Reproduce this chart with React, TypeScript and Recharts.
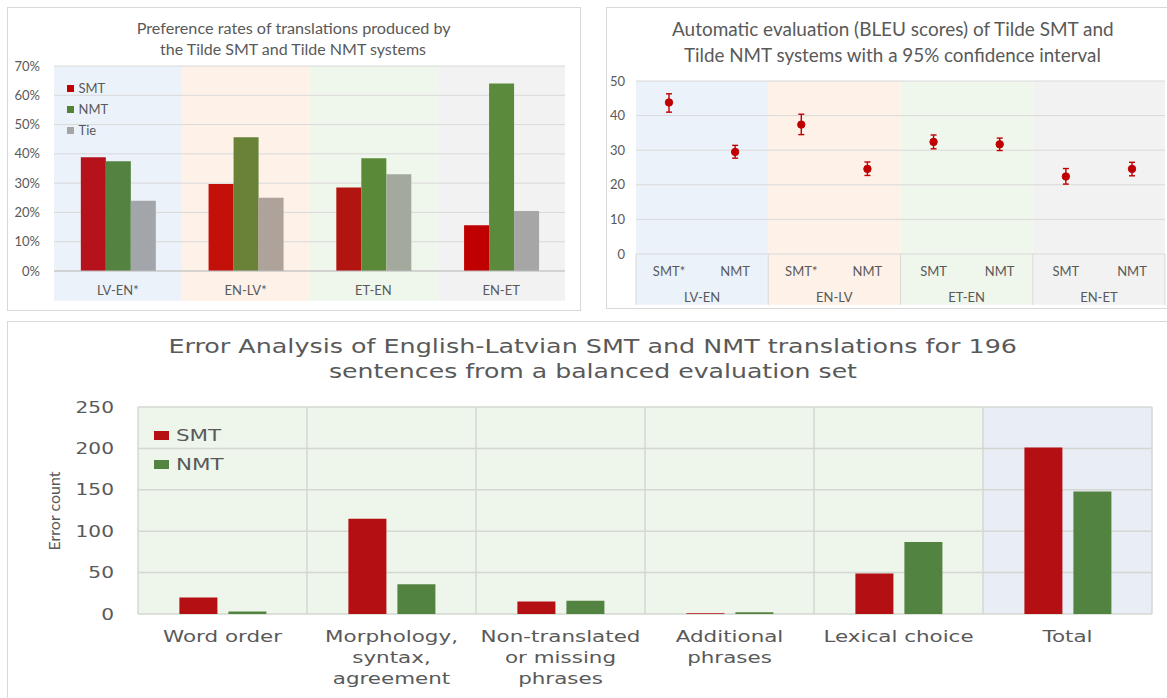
import React from 'react';
import {
  BarChart, Bar, XAxis, YAxis, CartesianGrid, ReferenceArea, ReferenceLine,
  Cell, Legend, ComposedChart, Line, ErrorBar,
} from 'recharts';

const LATO = "Lato, 'Open Sans', Arial, sans-serif";
const DEJAVU = "'DejaVu Sans', Verdana, sans-serif";
const TEXT = '#595959';

// ---------- Chart 1: preference rates (%) ----------
const prefCategories = ['LV-EN*', 'EN-LV*', 'ET-EN', 'EN-ET'];
const prefSeries = ['SMT', 'NMT', 'Tie'];
const prefSMT = [38.8, 29.7, 28.5, 15.6];
const prefNMT = [37.5, 45.7, 38.5, 64.0];
const prefTie = [24.0, 25.0, 33.0, 20.5];
const prefTicks = [0, 10, 20, 30, 40, 50, 60, 70];

// ---------- Chart 2: BLEU with 95% CI ----------
const bleuPairs = ['LV-EN', 'EN-LV', 'ET-EN', 'EN-ET'];
const bleuSystems = ['SMT*', 'NMT', 'SMT*', 'NMT', 'SMT', 'NMT', 'SMT', 'NMT'];
const bleuScore = [43.8, 29.5, 37.4, 24.6, 32.4, 31.7, 22.4, 24.6];
const bleuLower = [41.0, 27.7, 34.5, 22.7, 30.4, 29.9, 20.2, 22.6];
const bleuUpper = [46.3, 31.4, 40.4, 26.6, 34.4, 33.5, 24.7, 26.5];
const bleuTicks = [0, 10, 20, 30, 40, 50];
const bleuGroupTicks = [0.5, 1.5, 2.5, 3.5];

// ---------- Chart 3: error analysis ----------
const errCategories = [
  'Word order',
  'Morphology,\nsyntax,\nagreement',
  'Non-translated\nor missing\nphrases',
  'Additional\nphrases',
  'Lexical choice',
  'Total',
];
const errSeries = ['SMT', 'NMT'];
const errSMT = [20, 115, 15, 1, 49, 201];
const errNMT = [3, 36, 16, 2, 87, 148];
const errTicks = [0, 50, 100, 150, 200, 250];

// ---------- styles ----------
const bandFill = ['#EBF2FA', '#FDF1E8', '#EFF6EB', '#F2F2F2'];
const prefSMTFill = ['#B5121B', '#C3110A', '#B2150F', '#C00000'];
const prefNMTFill = ['#548241', '#698237', '#5A8A38', '#5B8A3C'];
const prefTieFill = ['#A2A6AB', '#ADA39A', '#A3A99C', '#A6A6A6'];
const errBandFill = ['#EEF5EA', '#EEF5EA', '#EEF5EA', '#EEF5EA', '#EEF5EA', '#E9EDF6'];

// ---------- ticks ----------
function PrefXTick(props: any) {
  const { x, y, payload } = props;
  return (
    <text x={x} y={y} dy={24} textAnchor="middle" fill={TEXT} fontSize={13} fontFamily={LATO}>
      {payload.value}
    </text>
  );
}
function PctTick(props: any) {
  const { x, y, payload } = props;
  return (
    <text x={x} y={y} dy={4.6} textAnchor="end" fill={TEXT} fontSize={13} fontFamily={LATO}>
      {payload.value}%
    </text>
  );
}
function NumTick(props: any) {
  const { x, y, payload } = props;
  return (
    <text x={x} y={y} dy={4.6} textAnchor="end" fill={TEXT} fontSize={13} fontFamily={LATO}>
      {payload.value}
    </text>
  );
}
function SysTick(props: any) {
  const { x, y, payload } = props;
  return (
    <text x={x} y={y} dy={22} textAnchor="middle" fill={TEXT} fontSize={13} fontFamily={LATO}>
      {payload.value}
    </text>
  );
}
function PairTick(props: any) {
  const { x, y, payload } = props;
  return (
    <text x={x} y={y} dy={22.7} textAnchor="middle" fill={TEXT} fontSize={13} fontFamily={LATO}>
      {bleuPairs[Math.floor(payload.value)]}
    </text>
  );
}
function ErrXTick(props: any) {
  const { x, y, payload } = props;
  const lines = String(payload.value).split('\n');
  return (
    <g transform={`translate(${x},${y}) scale(1.3,1)`}>
      <text textAnchor="middle" fill={TEXT} fontSize={16.5} fontFamily={DEJAVU}>
        {lines.map((l, i) => (
          <tspan key={i} x={0} y={28.4 + i * 21}>{l}</tspan>
        ))}
      </text>
    </g>
  );
}
function ErrYTick(props: any) {
  const { x, y, payload } = props;
  return (
    <g transform={`translate(${x},${y}) scale(1.3,1)`}>
      <text textAnchor="end" y={5.6} fill={TEXT} fontSize={15.5} fontFamily={DEJAVU}>
        {payload.value}
      </text>
    </g>
  );
}

// ---------- legends ----------
function ordered(payload: any[], order: string[]) {
  return [...(payload || [])].sort((a, b) => order.indexOf(a.value) - order.indexOf(b.value));
}
function PrefLegend(props: any) {
  const payload = ordered(props.payload, prefSeries);
  return (
    <div>
      {payload.map((p: any) => (
        <div key={p.value} style={{ display: 'flex', alignItems: 'center', height: 21 }}>
          <span style={{ display: 'inline-block', width: 7, height: 7, background: p.color, marginRight: 4.5 }} />
          <span style={{ fontFamily: LATO, fontSize: 13, color: TEXT, lineHeight: '21px' }}>{p.value}</span>
        </div>
      ))}
    </div>
  );
}
function ErrLegend(props: any) {
  const payload = ordered(props.payload, errSeries);
  return (
    <div>
      {payload.map((p: any) => (
        <div key={p.value} style={{ display: 'flex', alignItems: 'center', height: 29 }}>
          <span style={{ display: 'inline-block', width: 15, height: 9, background: p.color, marginRight: 6.5 }} />
          <span
            style={{
              display: 'inline-block', fontFamily: DEJAVU, fontSize: 16.5, color: TEXT,
              lineHeight: '29px', transform: 'scaleX(1.3)', transformOrigin: 'left center',
            }}
          >
            {p.value}
          </span>
        </div>
      ))}
    </div>
  );
}

// ---------- charts ----------
function PreferenceChart() {
  const data = prefCategories.map((cat, i) => ({ cat, pos: i + 0.5, SMT: prefSMT[i], NMT: prefNMT[i], Tie: prefTie[i] }));
  return (
    <div style={{ position: 'absolute', left: 0, top: 0 }}>
      <BarChart
        width={600}
        height={315}
        data={data}
        margin={{ top: 66, right: 35, bottom: 14, left: 14 }}
        barCategoryGap="21%"
        barGap={0}
      >
        <XAxis xAxisId="cat" dataKey="cat" axisLine={false} tickLine={false} tickSize={0} tickMargin={0}
          height={30} interval={0} tick={<PrefXTick />} />
        <XAxis xAxisId="zband" dataKey="pos" type="number" domain={[0, prefCategories.length]}
          allowDataOverflow hide height={0} />
        <YAxis domain={[0, 70]} ticks={prefTicks} width={40} axisLine={false} tickLine={false}
          tickSize={0} tickMargin={14} tick={<PctTick />} />
        {prefCategories.map((c, i) => (
          <ReferenceArea key={c} xAxisId="zband" x1={i} x2={i + 1} y1={-10.2} y2={70}
            fill={bandFill[i]} fillOpacity={1} stroke="none" ifOverflow="visible" zIndex={-200} />
        ))}
        <CartesianGrid xAxisId="cat" vertical={false} stroke="#D9D9D9" />
        <ReferenceLine xAxisId="cat" y={0} stroke="#BFBFBF" />
        <Bar xAxisId="cat" dataKey="SMT" name="SMT" fill="#C00000" isAnimationActive={false}>
          {data.map((d, i) => <Cell key={d.cat} fill={prefSMTFill[i]} />)}
        </Bar>
        <Bar xAxisId="cat" dataKey="NMT" name="NMT" fill="#548235" isAnimationActive={false}>
          {data.map((d, i) => <Cell key={d.cat} fill={prefNMTFill[i]} />)}
        </Bar>
        <Bar xAxisId="cat" dataKey="Tie" name="Tie" fill="#A5A5A5" isAnimationActive={false}>
          {data.map((d, i) => <Cell key={d.cat} fill={prefTieFill[i]} />)}
        </Bar>
        <Legend layout="vertical" align="center" verticalAlign="middle" content={<PrefLegend />}
          wrapperStyle={{ left: 67, top: 78, width: 60, height: 63 }} />
      </BarChart>
    </div>
  );
}

function BleuChart() {
  const data = bleuSystems.map((sys, i) => ({
    sys,
    pos: (i + 0.5) / 2,
    score: bleuScore[i],
    err: [bleuScore[i] - bleuLower[i], bleuUpper[i] - bleuScore[i]],
  }));
  return (
    <div style={{ position: 'absolute', left: 600, top: 0 }}>
      <ComposedChart width={567} height={320} data={data} margin={{ top: 81, right: 2, bottom: 6, left: 6 }}>
        <XAxis xAxisId="cat" dataKey="sys" axisLine={false} tickLine={false} tickSize={0} tickMargin={0}
          height={25} interval={0} tick={<SysTick />} allowDuplicatedCategory padding={{ left: 33, right: 33 }} />
        <XAxis xAxisId="grp" dataKey="pos" type="number" domain={[0, bleuPairs.length]} ticks={bleuGroupTicks}
          allowDataOverflow axisLine={false} tickLine={false} tickSize={0} tickMargin={0} height={35} interval={0}
          tick={<PairTick />} />
        <YAxis domain={[0, 50]} ticks={bleuTicks} width={30} axisLine={false} tickLine={false}
          tickSize={0} tickMargin={11} tick={<NumTick />} />
        {bleuPairs.map((p, i) => (
          <ReferenceArea key={p} xAxisId="grp" x1={i} x2={i + 1} y1={-14.7} y2={50}
            fill={bandFill[i]} fillOpacity={1} stroke="none" ifOverflow="visible" zIndex={-200} />
        ))}
        <CartesianGrid xAxisId="cat" vertical={false} stroke="#D9D9D9" />
        {[0, 1, 2, 3, 4].map((b) => (
          <ReferenceLine key={b} xAxisId="grp" segment={[{ x: b, y: 0 }, { x: b, y: -14.7 }]}
            stroke="#D9D9D9" ifOverflow="visible" />
        ))}
        <Line xAxisId="cat" dataKey="score" stroke="none" isAnimationActive={false} activeDot={false}
          dot={{ r: 3.7, fill: '#C00000', stroke: '#C00000', strokeWidth: 1 }}>
          <ErrorBar dataKey="err" width={3} stroke="#C00000" strokeWidth={1.4} direction="y" />
        </Line>
      </ComposedChart>
    </div>
  );
}

function ErrorChart() {
  const data = errCategories.map((cat, i) => ({ cat, pos: i + 0.5, SMT: errSMT[i], NMT: errNMT[i] }));
  return (
    <div style={{ position: 'absolute', left: 0, top: 320 }}>
      <BarChart
        width={1167}
        height={378}
        data={data}
        margin={{ top: 87, right: 15, bottom: 4, left: 68 }}
        barCategoryGap="24.5%"
        barGap={11}
      >
        <XAxis xAxisId="cat" dataKey="cat" axisLine={false} tickLine={false} tickSize={0} tickMargin={0}
          height={80} interval={0} tick={<ErrXTick />} />
        <XAxis xAxisId="zband" dataKey="pos" type="number" domain={[0, errCategories.length]}
          allowDataOverflow hide height={0} />
        <YAxis domain={[0, 250]} ticks={errTicks} width={70} axisLine={false} tickLine={false}
          tickSize={0} tickMargin={24} tick={<ErrYTick />} />
        {errCategories.map((c, i) => (
          <ReferenceArea key={c} xAxisId="zband" x1={i} x2={i + 1} y1={0} y2={250}
            fill={errBandFill[i]} fillOpacity={1} stroke="none" ifOverflow="visible" zIndex={-200} />
        ))}
        <CartesianGrid xAxisId="cat" vertical={false} stroke="#D3D8D1" strokeWidth={1.5} />
        {[0, 1, 2, 3, 4, 5, 6].map((b) => (
          <ReferenceLine key={b} xAxisId="zband" x={b} stroke="#D3D8D1" strokeWidth={1.5} ifOverflow="visible" />
        ))}
        <Bar xAxisId="cat" dataKey="SMT" name="SMT" fill="#B40F12" isAnimationActive={false} />
        <Bar xAxisId="cat" dataKey="NMT" name="NMT" fill="#538341" isAnimationActive={false} />
        <Legend layout="vertical" align="center" verticalAlign="middle" content={<ErrLegend />}
          wrapperStyle={{ left: 154, top: 101, width: 90, height: 58 }} />
      </BarChart>
    </div>
  );
}

function Titles() {
  return (
    <svg width={1167} height={698} style={{ position: 'absolute', left: 0, top: 0, pointerEvents: 'none' }}>
      <g fill={TEXT} fontFamily={LATO} fontSize={15.5} textAnchor="middle">
        <text x={293.7} y={34} textLength={314} lengthAdjust="spacingAndGlyphs">
          Preference rates of translations produced by
        </text>
        <text x={293} y={55} textLength={266} lengthAdjust="spacingAndGlyphs">
          the Tilde SMT and Tilde NMT systems
        </text>
      </g>
      <g fill={TEXT} fontFamily={LATO} fontSize={18.5} textAnchor="middle">
        <text x={892.8} y={36} textLength={441.6} lengthAdjust="spacingAndGlyphs">
          Automatic evaluation (BLEU scores) of Tilde SMT and
        </text>
        <text x={892.4} y={61.7} textLength={417} lengthAdjust="spacingAndGlyphs">
          Tilde NMT systems with a 95% confidence interval
        </text>
      </g>
      <g fill={TEXT} fontFamily={DEJAVU} fontSize={19.2} textAnchor="middle">
        <text x={592.7} y={353.3} textLength={848.6} lengthAdjust="spacingAndGlyphs">
          Error Analysis of English-Latvian SMT and NMT translations for 196
        </text>
        <text x={593} y={378.3} textLength={528} lengthAdjust="spacingAndGlyphs">
          sentences from a balanced evaluation set
        </text>
      </g>
      <text x={0} y={0} transform="translate(60,511) rotate(-90)" fill={TEXT} fontFamily={LATO}
        fontSize={16} textAnchor="middle">
        Error count
      </text>
    </svg>
  );
}

export default function App() {
  return (
    <div style={{ position: 'absolute', left: 0, top: 0, width: 1167, height: 698, background: '#FFFFFF', overflow: 'hidden', fontFamily: LATO }}>
      <div style={{ position: 'absolute', left: 7, top: 7, width: 574, height: 304, border: '1px solid #D9D9D9', boxSizing: 'border-box' }} />
      <div style={{ position: 'absolute', left: 606, top: 7, width: 640, height: 302, border: '1px solid #D9D9D9', boxSizing: 'border-box' }} />
      <div style={{ position: 'absolute', left: 7, top: 321, width: 1240, height: 420, border: '1px solid #D9D9D9', boxSizing: 'border-box' }} />
      <PreferenceChart />
      <BleuChart />
      <ErrorChart />
      <Titles />
    </div>
  );
}
